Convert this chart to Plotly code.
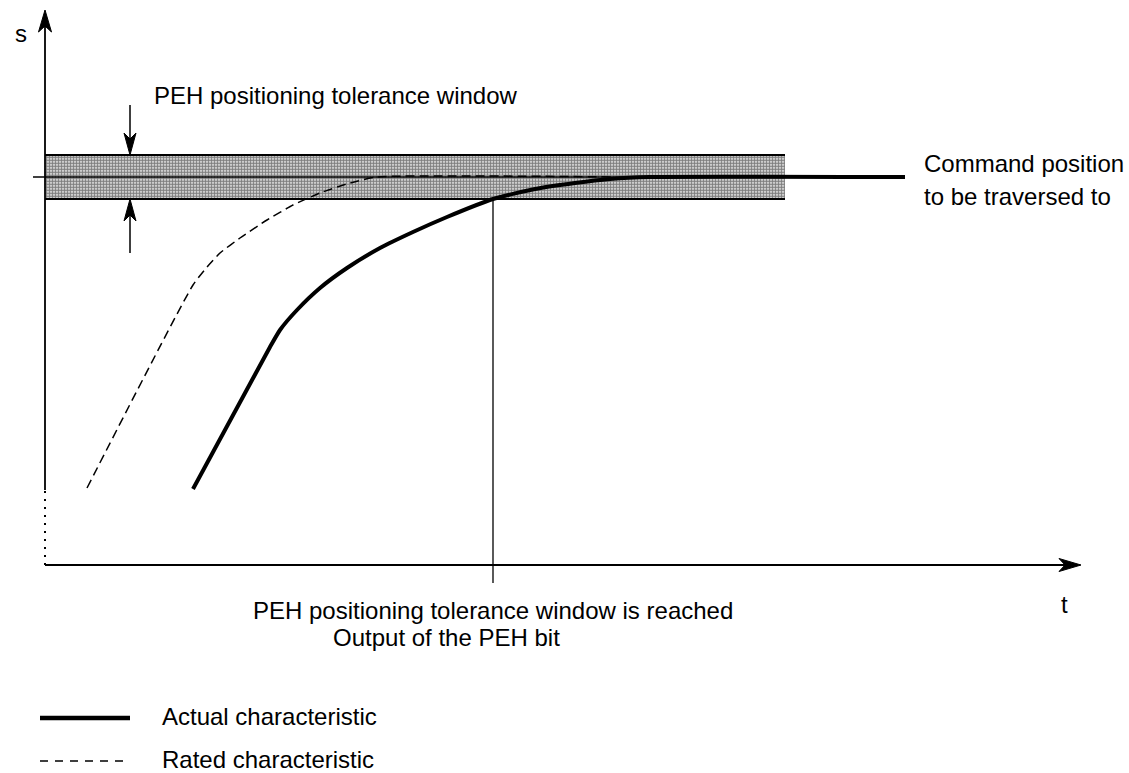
import plotly.graph_objects as go

# Characteristics in (t, s) units; the origin is where the two axes cross
actual_t = [148, 225, 235, 252, 275, 302, 335, 368, 402, 448, 490, 530, 565, 605, 860]
actual_s = [76, 218, 235, 255, 277, 297, 317, 333, 348, 366, 376, 382, 386, 388, 388]

rated_t = [42, 148, 162, 175, 195, 222, 248, 275, 305, 332, 570]
rated_s = [77, 280, 298, 312, 327, 345, 360, 372, 382, 388, 388]

command_s = 388          # command position to be traversed to
window_low = 366         # lower edge of the PEH tolerance window
window_high = 410        # upper edge of the PEH tolerance window
window_end_t = 740       # right end of the shaded window
reached_t = 448          # instant the window is reached (PEH bit output)

t_axis_end = 1036
s_axis_end = 555
s_solid_from = 75

FONT = "Liberation Sans, Arial, Helvetica, sans-serif"
FS = 24

fig = go.Figure()

# shaded tolerance window
fig.add_trace(go.Scatter(
    x=[0, window_end_t, window_end_t, 0, 0],
    y=[window_low, window_low, window_high, window_high, window_low],
    fill="toself", mode="lines", line=dict(width=0, color="rgba(0,0,0,0)"),
    fillcolor="white",
    fillpattern=dict(shape=".", size=3, solidity=0.7, fgcolor="black", bgcolor="white"),
    hoverinfo="skip", showlegend=False))

# window edges and command position reference line
for s in (window_low, window_high):
    fig.add_trace(go.Scatter(x=[0, window_end_t], y=[s, s], mode="lines",
                             line=dict(color="black", width=1.8),
                             hoverinfo="skip", showlegend=False))
fig.add_trace(go.Scatter(x=[-12, window_end_t], y=[command_s, command_s], mode="lines",
                         line=dict(color="black", width=1.3),
                         hoverinfo="skip", showlegend=False))

# rated characteristic (dashed)
fig.add_trace(go.Scatter(x=rated_t, y=rated_s, mode="lines",
                         line=dict(color="black", width=1.5, dash="9px,5px", shape="spline", smoothing=0.5),
                         hoverinfo="skip", showlegend=False))

# actual characteristic (thick)
fig.add_trace(go.Scatter(x=actual_t, y=actual_s, mode="lines",
                         line=dict(color="black", width=4, shape="spline", smoothing=0.5),
                         hoverinfo="skip", showlegend=False))

# marker of the instant the window is reached
fig.add_trace(go.Scatter(x=[reached_t, reached_t], y=[window_low, -18], mode="lines",
                         line=dict(color="black", width=1.3),
                         hoverinfo="skip", showlegend=False))

# axes
fig.add_trace(go.Scatter(x=[0, 0], y=[0, s_solid_from], mode="lines",
                         line=dict(color="black", width=2, dash="2px,6px"),
                         hoverinfo="skip", showlegend=False))
fig.add_trace(go.Scatter(x=[0, 0], y=[s_solid_from, s_axis_end - 12], mode="lines",
                         line=dict(color="black", width=1.8),
                         hoverinfo="skip", showlegend=False))
fig.add_trace(go.Scatter(x=[0, t_axis_end - 12], y=[0, 0], mode="lines",
                         line=dict(color="black", width=1.8),
                         hoverinfo="skip", showlegend=False))

# window arrows (shafts)
fig.add_trace(go.Scatter(x=[85, 85], y=[460, window_high + 10], mode="lines",
                         line=dict(color="black", width=1.5),
                         hoverinfo="skip", showlegend=False))
fig.add_trace(go.Scatter(x=[85, 85], y=[312, window_low - 10], mode="lines",
                         line=dict(color="black", width=1.5),
                         hoverinfo="skip", showlegend=False))


def arrowhead(tip_x, tip_y, direction, length=22, half=6.5, notch=6):
    """Notched filled arrowhead path, tip at (tip_x, tip_y)."""
    if direction == "up":
        pts = [(tip_x, tip_y), (tip_x - half, tip_y - length), (tip_x, tip_y - length + notch),
               (tip_x + half, tip_y - length)]
    elif direction == "down":
        pts = [(tip_x, tip_y), (tip_x - half, tip_y + length), (tip_x, tip_y + length - notch),
               (tip_x + half, tip_y + length)]
    else:  # right
        pts = [(tip_x, tip_y), (tip_x - length, tip_y + half), (tip_x - length + notch, tip_y),
               (tip_x - length, tip_y - half)]
    path = "M " + " L ".join(f"{x},{y}" for x, y in pts) + " Z"
    return dict(type="path", path=path, xref="x", yref="y",
                fillcolor="black", line=dict(color="black", width=1))


shapes = [
    arrowhead(0, s_axis_end, "up"),
    arrowhead(t_axis_end, 0, "right"),
    arrowhead(85, window_high, "down", length=22, half=6),
    arrowhead(85, window_low, "up", length=22, half=6),
    # legend samples
    dict(type="line", xref="x", yref="y", x0=-5, x1=85, y0=-153, y1=-153,
         line=dict(color="black", width=4.5)),
    dict(type="line", xref="x", yref="y", x0=-5, x1=85, y0=-196, y1=-196,
         line=dict(color="black", width=1.3, dash="8px,7px")),
]


def label(x, y, text, anchor="left"):
    return dict(x=x, y=y, xref="x", yref="y", text=text, showarrow=False,
                xanchor=anchor, yanchor="middle",
                font=dict(family=FONT, size=FS, color="black"))


annotations = [
    label(-32, 532, "s"),
    label(107, 470, "PEH positioning tolerance window"),
    label(877, 402, "Command position"),
    label(877, 369, "to be traversed to"),
    label(reached_t, -45, "PEH positioning tolerance window is reached", anchor="center"),
    label(401, -72, "Output of the PEH bit", anchor="center"),
    label(1014, -39, "t"),
    label(115, -151, "Actual characteristic"),
    label(115, -194, "Rated characteristic"),
]

fig.update_layout(
    width=1129, height=773,
    margin=dict(l=0, r=0, t=0, b=0),
    paper_bgcolor="white", plot_bgcolor="white",
    xaxis=dict(range=[-45, 1084], visible=False, fixedrange=True),
    yaxis=dict(range=[-208, 565], visible=False, fixedrange=True),
    shapes=shapes, annotations=annotations,
    showlegend=False,
)

fig.write_html("out.html")
